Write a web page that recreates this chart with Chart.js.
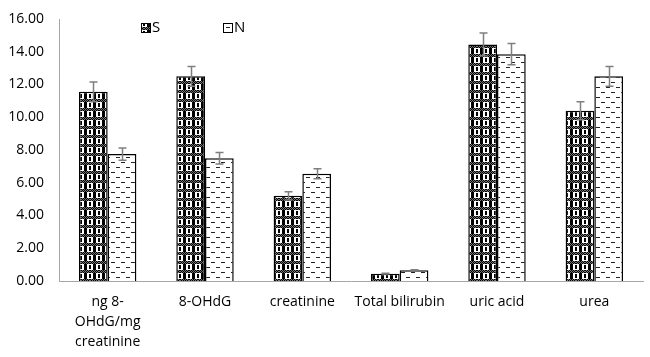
<!DOCTYPE html>
<html>
<head>
<meta charset="utf-8">
<script src="https://cdn.jsdelivr.net/npm/chart.js@4/dist/chart.umd.min.js"></script>
<style>
html,body{margin:0;padding:0;background:#fff;}
#wrap{width:650px;height:357px;position:relative;}
</style>
</head>
<body>
<div id="wrap"><canvas id="c" width="650" height="357"></canvas></div>
<script>
const categories = [["ng 8-","OHdG/mg","creatinine"],"8-OHdG","creatinine","Total bilirubin","uric acid","urea"];
const seriesNames = ["S","N"];
const sValues = [11.55, 12.5, 5.2, 0.45, 14.45, 10.4];
const nValues = [7.75, 7.5, 6.55, 0.65, 13.85, 12.5];
const sErrors = [0.6, 0.6, 0.25, 0.03, 0.7, 0.55];
const nErrors = [0.37, 0.35, 0.3, 0.03, 0.65, 0.6];
const yTicks = [0,2,4,6,8,10,12,14,16];

function makeSPattern(ctx){
  const c=document.createElement('canvas'); c.width=9; c.height=9;
  const g=c.getContext('2d');
  g.fillStyle='#fff'; g.fillRect(0,0,9,9);
  g.fillStyle='#000';
  g.fillRect(3,3,3,6);
  for(let y=0;y<3;y++){for(let x=0;x<9;x++){ if((x+y)%2===0) g.fillRect(x,y,1,1);} }
  g.fillStyle='#777';
  for(let y=0;y<3;y++){for(let x=0;x<9;x++){ if((x+y)%2===1) g.fillRect(x,y,1,1);} }
  g.fillStyle='#000';
  g.fillRect(0,4,1,4); g.fillRect(8,4,1,4);
  return ctx.createPattern(c,'repeat');
}
function makeNPattern(ctx){
  const c=document.createElement('canvas'); c.width=10; c.height=10;
  const g=c.getContext('2d');
  g.fillStyle='#fff'; g.fillRect(0,0,10,10);
  g.fillStyle='#222';
  g.fillRect(1,2,4,1);
  g.fillRect(6,7,4,1);
  return ctx.createPattern(c,'repeat');
}

const canvas=document.getElementById('c');
const ctx0=canvas.getContext('2d');
const sPat=makeSPattern(ctx0), nPat=makeNPattern(ctx0);
const FONT="'Open Sans', 'DejaVu Sans', sans-serif";

const errorBars={
  id:'errorBars',
  afterDatasetsDraw(chart){
    const ctx=chart.ctx, y=chart.scales.y;
    const errs=[sErrors,nErrors];
    chart.data.datasets.forEach((ds,di)=>{
      const meta=chart.getDatasetMeta(di);
      meta.data.forEach((bar,i)=>{
        const v=ds.data[i], e=errs[di][i];
        const top=y.getPixelForValue(v+e), bot=y.getPixelForValue(v-e);
        const x=Math.round(bar.x)+0.5;
        ctx.save();
        ctx.strokeStyle='#7f7f7f'; ctx.lineWidth=1.5;
        ctx.beginPath();
        ctx.moveTo(x,top); ctx.lineTo(x,bot);
        ctx.moveTo(x-4,top); ctx.lineTo(x+4,top);
        ctx.moveTo(x-4,bot); ctx.lineTo(x+4,bot);
        ctx.stroke();
        ctx.restore();
      });
    });
  }
};

const customLegend={
  id:'customLegend',
  afterDraw(chart){
    const ctx=chart.ctx;
    const items=[{x:141,label:seriesNames[0],pat:sPat},{x:223,label:seriesNames[1],pat:nPat}];
    ctx.save();
    items.forEach(it=>{
      ctx.fillStyle=it.pat;
      ctx.fillRect(it.x,23,9,9);
      ctx.strokeStyle='#000'; ctx.lineWidth=1;
      ctx.strokeRect(it.x+0.5,23.5,9,9);
      ctx.fillStyle='#000';
      ctx.font="15px "+FONT;
      ctx.textBaseline='middle';
      ctx.textAlign='left';
      ctx.fillText(it.label,it.x+11,28);
    });
    ctx.restore();
  }
};

new Chart(canvas,{
  type:'bar',
  data:{
    labels:categories,
    datasets:[
      {label:seriesNames[0],data:sValues,backgroundColor:sPat,borderColor:'#000',borderWidth:1.5,categoryPercentage:0.59,barPercentage:1},
      {label:seriesNames[1],data:nValues,backgroundColor:nPat,borderColor:'#000',borderWidth:1.5,categoryPercentage:0.59,barPercentage:1}
    ]
  },
  options:{
    responsive:false,
    animation:false,
    layout:{padding:{top:19,left:0,right:7,bottom:0}},
    plugins:{legend:{display:false},tooltip:{enabled:false}},
    scales:{
      x:{
        afterFit(axis){axis.height=76;},
        grid:{display:false,drawTicks:false},
        border:{color:'#a6a6a6',width:1},
        ticks:{color:'#000',font:{family:FONT,size:14,lineHeight:1.42},padding:11,maxRotation:0,autoSkip:false}
      },
      y:{
        min:0,max:16,
        afterFit(axis){axis.width=59;},
        afterBuildTicks(axis){axis.ticks=yTicks.map(v=>({value:v}));},
        grid:{display:false,drawOnChartArea:false,drawTicks:true,tickLength:7,tickColor:'#a6a6a6'},
        border:{color:'#a6a6a6',width:1},
        ticks:{color:'#000',font:{family:FONT,size:14},padding:8,callback:v=>Number(v).toFixed(2)}
      }
    }
  },
  plugins:[errorBars,customLegend]
});
</script>
</body>
</html>
